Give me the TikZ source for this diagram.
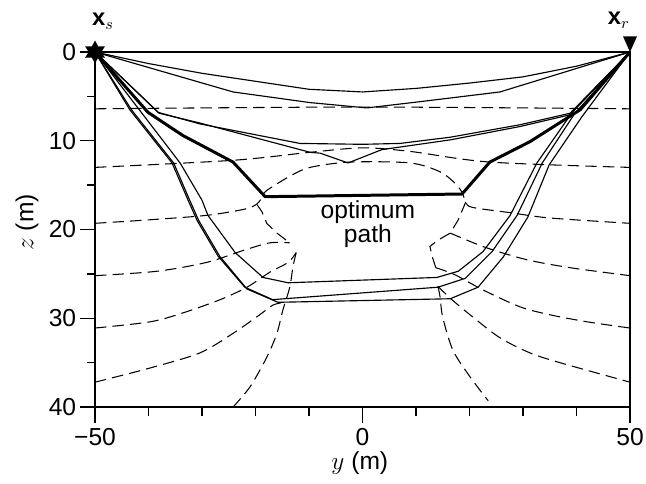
\documentclass[tikz,border=0pt]{standalone}
\usepackage{fontspec}
\setmainfont{Liberation Sans}
\usetikzlibrary{shapes.geometric}

\begin{document}
\begin{tikzpicture}[x=0.107cm,y=-0.1775cm,font=\fontsize{14}{16}\selectfont,
  frame/.style={line width=1.1pt},
  tick/.style={line width=0.8pt},
  ray/.style={line width=0.65pt,line join=round},
  optpath/.style={line width=1.7pt,line join=round},
  front/.style={line width=0.6pt,dash pattern=on 6.5pt off 3.5pt}]
\useasboundingbox (-67.76,-5.86) rectangle (52.99,48.56);

% travel time contours
\draw[front] plot[smooth] coordinates {(-50,6.4) (0,6.2) (50,6.4)};
\draw[front] plot[smooth,tension=0.5] coordinates {(-50,13.0) (-24.2,12.2) (-9.8,11.3) (0,10.8) (8.9,11.2) (23.8,12.4) (50,13.0)};
\draw[front] plot[smooth,tension=0.5] coordinates {(-50,19.3) (-39.7,18.9) (-29.1,18.4) (-22.0,17.7) (-19.7,17.1) (-18.6,16.2) (-17.9,15.6) (-13.6,14.0) (-9.8,13.0) (-2.3,12.4) (8.9,12.5) (14.5,13.5) (17.3,14.8) (18.6,15.8) (19.3,16.9) (20.5,17.5) (27.6,18.1) (35.0,18.7) (50,19.3)};
\draw[front] (-19.7,17.2) -- (-18.8,18.0) -- (-17.9,19.3) -- (-16.0,20.4) -- (-13.6,21.5);
\draw[front] plot[smooth,tension=0.5] coordinates {(-50,25.2) (-38.4,24.7) (-29.1,23.7) (-22.0,22.3) (-17.3,21.5) (-13.6,21.5)};
\draw[front] plot[smooth,tension=0.5] coordinates {(-50,31.1) (-39.7,30.4) (-33.6,29.4) (-26.6,27.9) (-21.6,26.5) (-17.3,24.8) (-13.9,23.7) (-12.4,22.6)};
\draw[front] plot[smooth,tension=0.5] coordinates {(-50,37.2) (-39.7,35.6) (-30.4,33.9) (-24.2,31.7) (-19.2,29.6) (-16.7,28.5) (-14.5,28.2)};
\draw[front] plot[smooth,tension=0.5] coordinates {(-12.4,22.6) (-13.0,24.2) (-13.6,26.5) (-14.9,29.1) (-16.0,31.7) (-17.9,34.4) (-21.0,37.7) (-24.2,40.0)};
\draw[front] (19.3,16.9) -- (17.9,18.9) -- (16.4,20.4) -- (14.1,21.2) -- (12.6,21.9) -- (13.0,23.0) -- (13.7,24.3);
\draw[front] plot[smooth,tension=0.5] coordinates {(16.4,20.4) (22.9,22.0) (30.7,23.4) (38.8,24.3) (50,25.2)};
\draw[front] plot[smooth,tension=0.5] coordinates {(13.7,24.3) (17.3,25.1) (22.5,26.8) (29.4,28.7) (35.0,29.6) (42.0,30.4) (50,31.1)};
\draw[front] plot[smooth,tension=0.5] coordinates {(14.1,26.4) (16.7,27.9) (20.7,29.9) (25.7,32.2) (31.3,33.9) (36.9,35.0) (50,37.2)};
\draw[front] plot[smooth,tension=0.5] coordinates {(14.1,26.4) (14.5,27.6) (15.0,29.9) (16.9,33.6) (20.1,36.6) (23.5,39.3)};

% rays
\coordinate (src) at (-50,0);
\coordinate (rcv) at (50,0);
\draw[ray] (src) -- (-40,1.3) -- (-30,2.4) -- (-20,3.3) -- (-10,4.2) -- (0,4.5) -- (10,4.1) -- (20,3.5) -- (30,2.8) -- (40,1.6) -- (rcv);
\draw[ray] (src) -- (-24.2,4.5) -- (-9.8,5.7) -- (0.8,6.3) -- (10.7,5.6) -- (25.7,4.5) -- (rcv);
\draw[ray] (src) -- (-38.2,6.8) -- (-30.4,8.1) -- (-11.7,10.3) -- (0,10.4) -- (7,10.3) -- (16.4,9.6) -- (29.4,8.2) -- (38.8,6.9) -- (rcv);
\draw[ray] (src) -- (-38.0,6.9) -- (-30.4,8.0) -- (-9.8,11.3) -- (-7.9,11.4) -- (-2.7,12.5) -- (3.6,11.0) -- (16.4,9.9) -- (29.4,8.4) -- (38.6,7.1) -- (rcv);
\draw[ray] (src) -- (-34.1,12.5) -- (-30.0,16.7) -- (-28.9,18.4) -- (-23.8,22.6) -- (-18.6,25.4) -- (-13.9,26.0) -- (13.9,25.4) -- (17.9,24.7) -- (22.5,22.5) -- (27.6,18.4) -- (32.6,12.5) -- (39.2,6.8) -- (rcv);
\draw[ray] (src) -- (-43.5,6.5) -- (-35.6,12.5) -- (-32.6,16.7) -- (-30.9,19.0) -- (-27.0,23.0) -- (-22.0,26.5) -- (-16.8,27.9) -- (14.1,26.5) -- (19.2,25.5) -- (24.2,22.5) -- (28.9,18.4) -- (33.6,12.5) -- (39.7,6.9) -- (rcv);
\draw[ray] (src) -- (-43.2,6.5) -- (-35.3,12.5) -- (-32.3,16.7) -- (-30.6,19.0) -- (-26.7,23.0) -- (-21.6,26.7) -- (-15.8,28.2) -- (16.4,27.8) -- (21.6,26.5) -- (26.3,23.1) -- (30.9,18.6) -- (34.9,12.7) -- (41.0,7.3) -- (rcv);
\draw[optpath] (src) -- (-40.1,6.8) -- (-33.6,9.4) -- (-24.2,12.4) -- (-18.2,16.3) -- (18.6,16.0) -- (23.8,12.4) -- (31.3,10.1) -- (40.7,6.5) -- (rcv);
\node[align=center,font=\fontsize{14}{10.5}\selectfont] (opt) at (1.0,19.4) {optimum\\path};

% axes
\draw[frame] (-50,0) rectangle (50,40);
\draw[tick] (-50,0) -- (-52.8,0) (-50,5) -- (-51.5,5) (-50,10) -- (-52.8,10) (-50,15) -- (-51.5,15)
  (-50,20) -- (-52.8,20) (-50,25) -- (-51.5,25) (-50,30) -- (-52.8,30) (-50,35) -- (-51.5,35) (-50,40) -- (-52.8,40);
\draw[tick] (-50,40) -- (-50,41.8) (-40,40) -- (-40,41) (-30,40) -- (-30,41) (-20,40) -- (-20,41) (-10,40) -- (-10,41)
  (0,40) -- (0,41.8) (10,40) -- (10,41) (20,40) -- (20,41) (30,40) -- (30,41) (40,40) -- (40,41) (50,40) -- (50,41.8);
\node[anchor=east,inner sep=2pt] (lz0) at (-52.8,0) {0};
\node[anchor=east,inner sep=2pt] (lz1) at (-52.8,10) {10};
\node[anchor=east,inner sep=2pt] (lz2) at (-52.8,20) {20};
\node[anchor=east,inner sep=2pt] (lz3) at (-52.8,30) {30};
\node[anchor=east,inner sep=2pt] (lz4) at (-52.8,40) {40};
\node[anchor=north,inner sep=3pt] (ly1) at (-50,41.8) {−50};
\node[anchor=north,inner sep=3pt] (ly2) at (0,41.8) {0};
\node[anchor=north,inner sep=3pt] (ly3) at (50,41.8) {50};
\node[rotate=90] (zlab) at (-62.7,19.2) {$z$ (m)};
\node (ylab) at (-0.5,46.3) {$y$ (m)};

% source and receiver
\node[star,star points=6,star point ratio=1.8,fill,inner sep=0pt,minimum size=0.46cm] (xs) at (src) {};
\fill (rcv) -- ++(-1.3,-1.75) -- ++(2.6,0) -- cycle;
\node[font=\fontsize{13.5}{15}\selectfont] (xslab) at (-48.5,-3.5) {$\mathbf{x}_s$};
\node[font=\fontsize{13.5}{15}\selectfont] (xrlab) at (47.9,-3.6) {$\mathbf{x}_r$};
\end{tikzpicture}
\end{document}
